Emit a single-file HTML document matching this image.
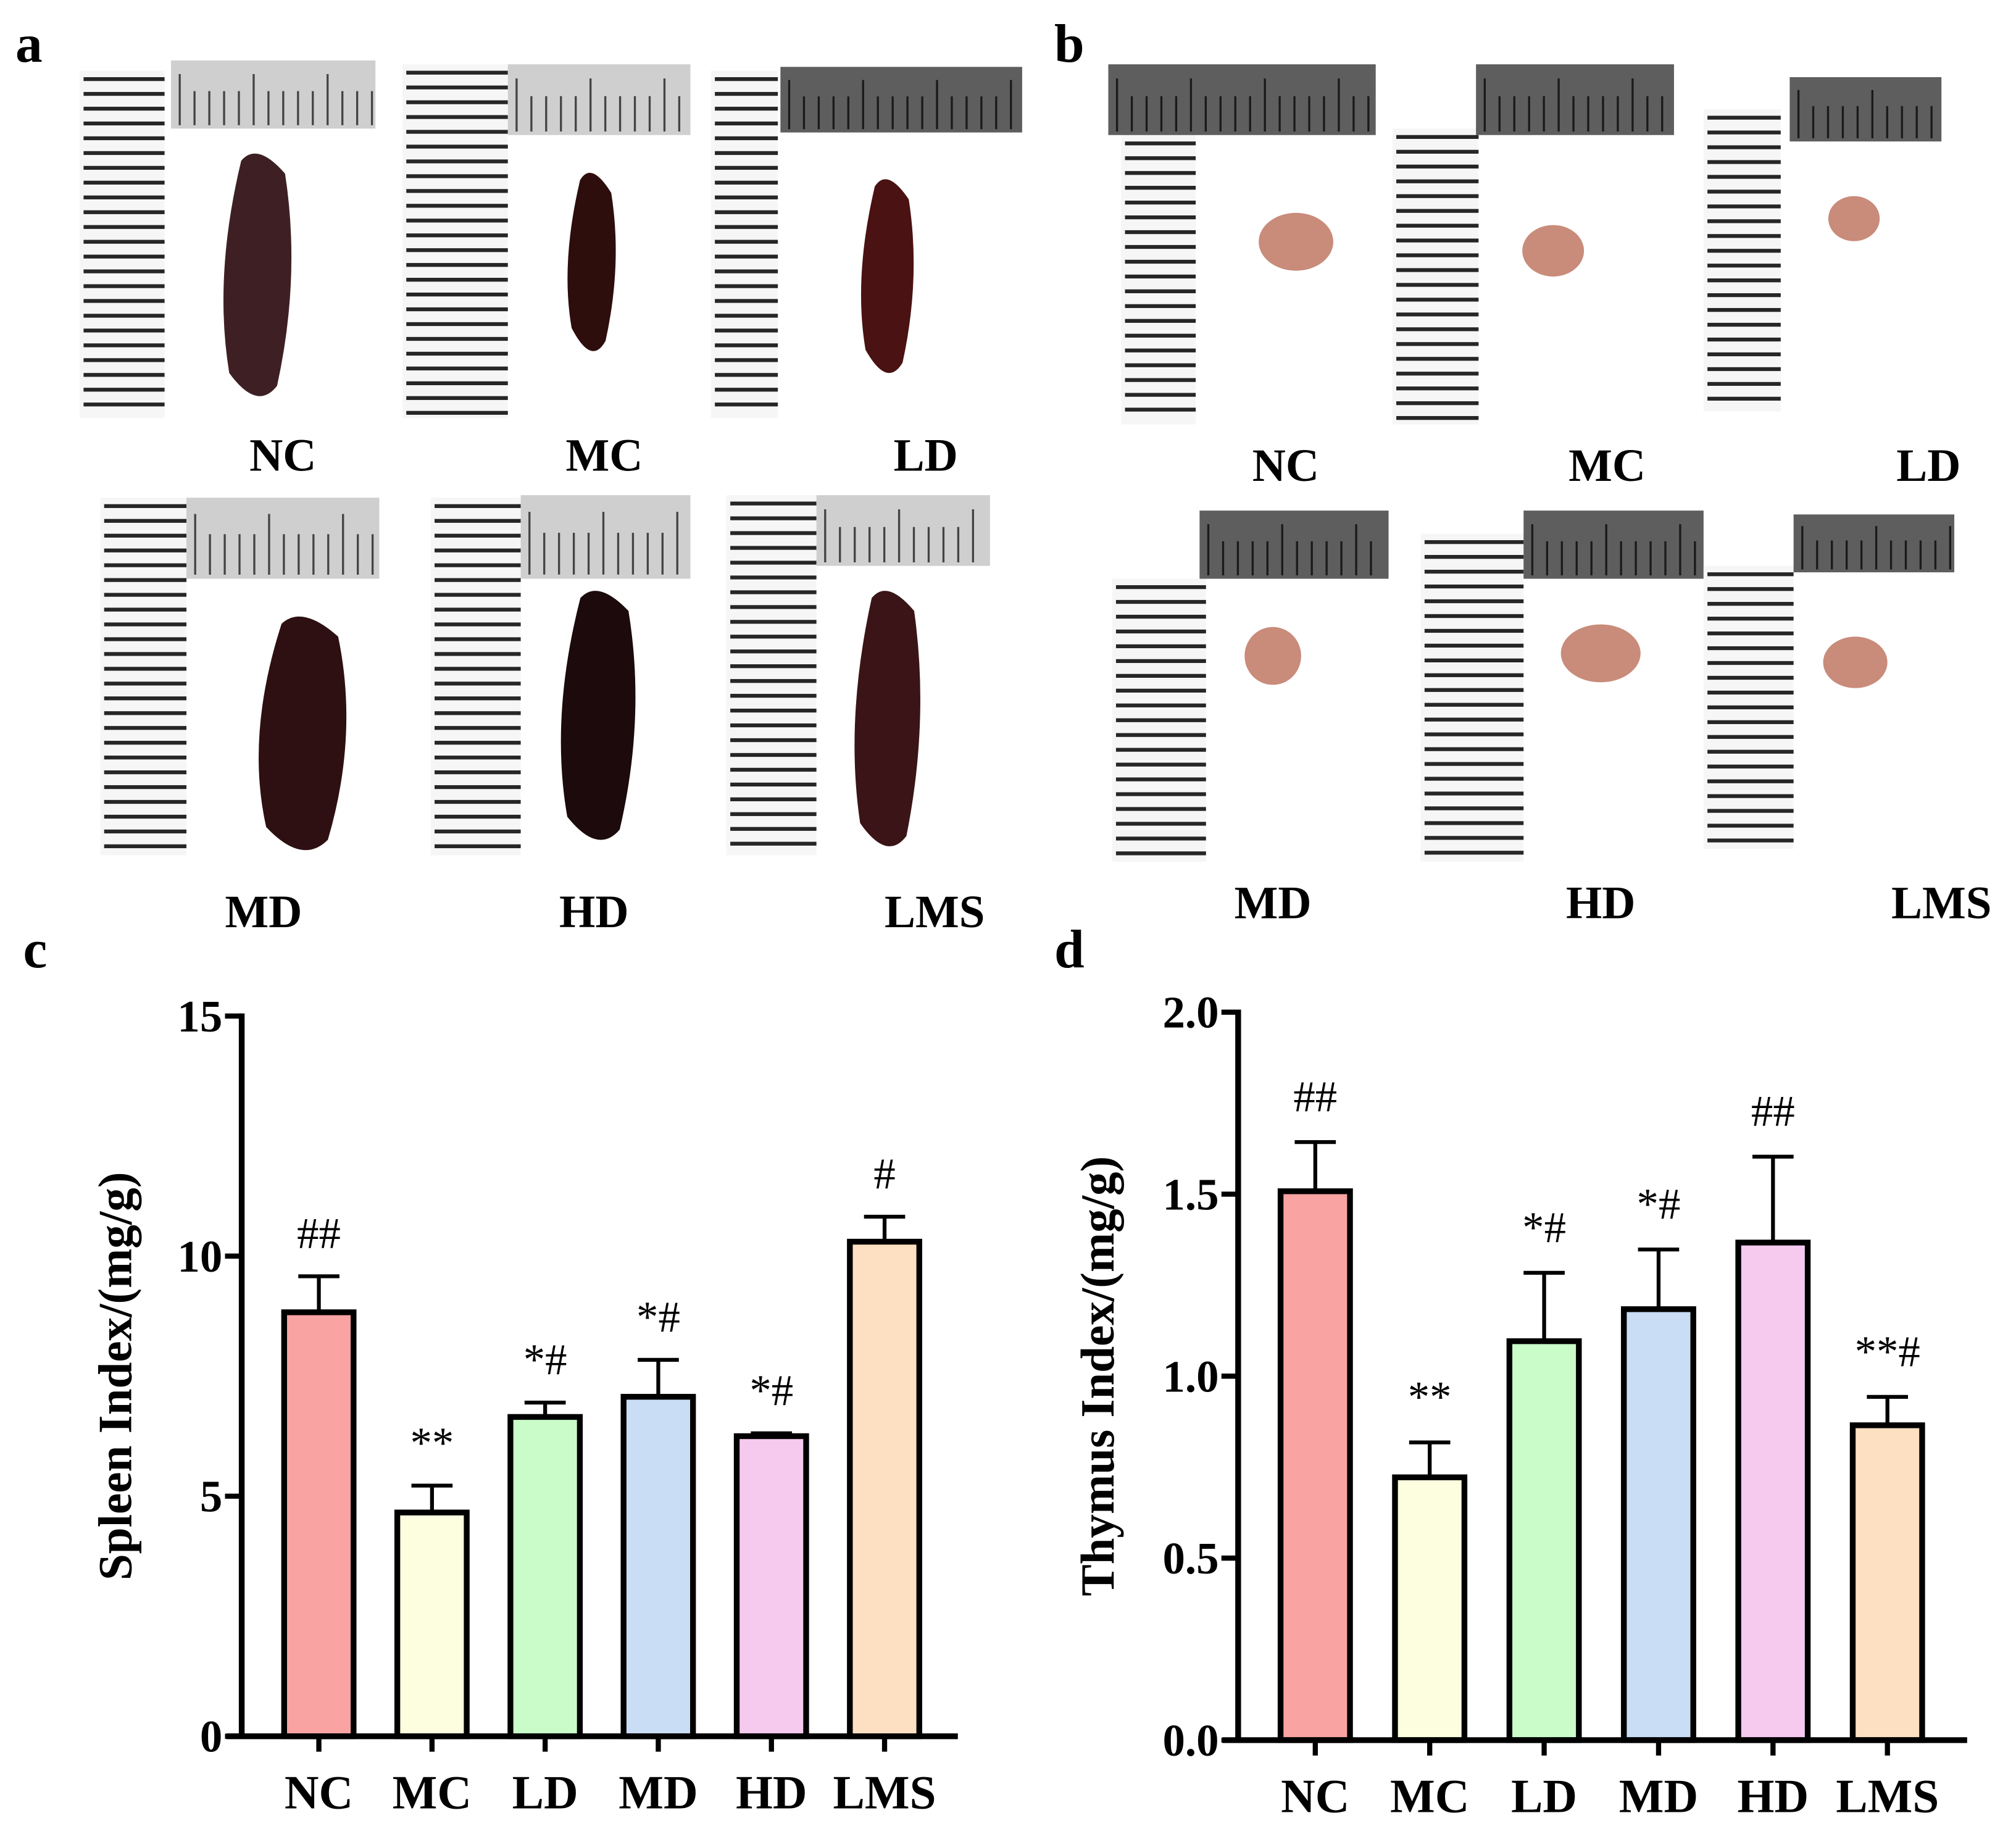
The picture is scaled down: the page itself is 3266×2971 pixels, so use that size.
<!DOCTYPE html>
<html><head><meta charset="utf-8">
<style>
html,body{margin:0;padding:0;background:#fff;}
svg{display:block;}
text{font-family:"Liberation Serif",serif;}
</style></head>
<body>
<svg id="fig" width="3266" height="2971" viewBox="0 0 1568 1426" preserveAspectRatio="none" xmlns="http://www.w3.org/2000/svg">
<rect width="1568" height="1426" fill="#fff"/>
<g id="photos"></g>
<g id="chartC"></g>
<g id="chartD"></g>
</svg>
<script>
const NS="http://www.w3.org/2000/svg";
function mk(parent,tag,attrs,txt){const e=document.createElementNS(NS,tag);for(const k in attrs)e.setAttribute(k,attrs[k]);if(txt!==undefined)e.textContent=txt;parent.appendChild(e);return e;}

// ---------- chart data ----------
const categories=["NC","MC","LD","MD","HD","LMS"];
const barColors=["#f9a3a3","#fdfde0","#c9fcc9","#c9ddf5","#f6c9ef","#fde0c1"];
const spleenValues=[8.83,4.66,6.65,7.07,6.25,10.3];
const spleenErrors=[0.75,0.56,0.30,0.77,0.06,0.52];
const spleenMarks=["##","**","*#","*#","*#","#"];
const spleenTicks=[0,5,10,15];
const thymusValues=[1.508,0.722,1.096,1.184,1.367,0.865];
const thymusErrors=[0.135,0.096,0.188,0.164,0.236,0.078];
const thymusMarks=["##","**","*#","*#","##","**#"];
const thymusTicks=["0.0","0.5","1.0","1.5","2.0"];

// ---------- photos ----------
const ph=document.getElementById('photos');
function label(x,y,s,name){const t=mk(ph,'text',{x:x,y:y,'font-size':36,'font-weight':'bold','text-anchor':'middle'},s);}
function ruler(vx,vy,vw,vh,hx,hy,hw,hh,dark,name){
  const g=mk(ph,'g',{});
  
  
  mk(g,'rect',{x:vx,y:vy,width:vw,height:vh,fill:'#f6f6f6'});
  for(let y=vy+5;y<vy+vh-2;y+=11.5){mk(g,'rect',{x:vx+3,y:y,width:vw-3,height:3,fill:'#262626'});}
  mk(g,'rect',{x:hx,y:hy,width:hw,height:hh,fill:dark?'#5e5e5e':'#cfcfcf'});
  let k=0;
  for(let x=hx+6;x<hx+hw-3;x+=11.5){const long=(k%5===0);mk(g,'rect',{x:x,y:hy+hh*(long?0.2:0.45),width:1.6,height:hh*(long?0.75:0.5),fill:dark?'#1a1a1a':'#444'});k++;}
}
function spleen(cx,y1,y2,w,col,name){
  const e=mk(ph,'path',{d:`M${cx-w*0.2},${y1+10} Q${cx},${y1-5} ${cx+w*0.35},${y1+20} Q${cx+w*0.55},${(y1+y2)/2} ${cx+w*0.25},${y2-15} Q${cx},${y2+5} ${cx-w*0.35},${y2-25} Q${cx-w*0.55},${(y1+y2)/2} ${cx-w*0.2},${y1+10}Z`,fill:col});
  
}
function thymus(cx,cy,w,h,name){
  const e=mk(ph,'ellipse',{cx:cx,cy:cy,rx:w/2,ry:h/2,fill:'#c98b7a'});
  
}
const pa=mk(ph,'text',{x:12,y:48,'font-size':42,'font-weight':'bold'},'a');
const pb=mk(ph,'text',{x:820,y:48,'font-size':42,'font-weight':'bold'},'b');
// panel a
ruler(62,55,66,270,133,47,159,53,false,'ruler-a-nc');spleen(200,115,315,62,'#3e2024','spleen-nc');label(220,366,'NC','label-a-nc');
ruler(313,50,82,275,395,50,142,55,false,'ruler-a-mc');spleen(460,130,280,44,'#2e0d0d','spleen-mc');label(470,366,'MC','label-a-mc');
ruler(553,55,52,270,607,52,188,51,true,'ruler-a-ld');spleen(690,135,297,48,'#4a1212','spleen-ld');label(720,366,'LD','label-a-ld');
ruler(78,387,67,278,145,387,150,63,false,'ruler-a-md');spleen(235,475,668,80,'#2e1012','spleen-md');label(205,721,'MD','label-a-md');
ruler(335,387,70,278,405,385,132,65,false,'ruler-a-hd');spleen(465,455,660,68,'#1c0a0c','spleen-hd');label(462,721,'HD','label-a-hd');
ruler(565,385,70,280,635,385,135,55,false,'ruler-a-lms');spleen(690,455,665,60,'#3a1416','spleen-lms');label(727,721,'LMS','label-a-lms');
// panel b
ruler(872,105,58,225,862,50,208,55,true,'ruler-b-nc');thymus(1008,188,58,45,'thymus-nc');label(1000,374,'NC','label-b-nc');
ruler(1083,100,67,230,1148,50,154,55,true,'ruler-b-mc');thymus(1208,195,48,40,'thymus-mc');label(1250,374,'MC','label-b-mc');
ruler(1325,85,60,235,1392,60,118,50,true,'ruler-b-ld');thymus(1442,170,40,35,'thymus-ld');label(1500,374,'LD','label-b-ld');
ruler(865,450,73,220,933,397,147,53,true,'ruler-b-md');thymus(990,510,44,45,'thymus-md');label(990,714,'MD','label-b-md');
ruler(1105,415,80,255,1185,397,140,53,true,'ruler-b-hd');thymus(1245,508,62,45,'thymus-hd');label(1245,714,'HD','label-b-hd');
ruler(1325,440,70,220,1395,400,125,45,true,'ruler-b-lms');thymus(1443,515,50,40,'thymus-lms');label(1510,714,'LMS','label-b-lms');

// ---------- bar chart builder ----------
function chart(gid,cfg){
  const g=document.getElementById(gid);
  const yS=v=>cfg.y0-(v/cfg.vmax)*(cfg.y0-cfg.yTop);
  const xS=i=>cfg.c0+i*cfg.step;
  const lab=mk(g,'text',{x:cfg.panelX,y:752,'font-size':42,'font-weight':'bold'},cfg.panel);
  
  
  const yt=mk(g,'text',{x:0,y:0,'font-size':37,'font-weight':'bold','text-anchor':'middle',transform:`translate(${cfg.titleX},${cfg.titleY}) rotate(-90)`},cfg.title);
  
  
  cfg.values.forEach((v,i)=>{
    const x=xS(i),w=54,top=yS(v),et=yS(v+cfg.errs[i]);
    const eb=mk(g,'line',{x1:x,x2:x,y1:top,y2:et,stroke:'#000','stroke-width':3});
    
    
    const cap=mk(g,'line',{x1:x-16,x2:x+16,y1:et,y2:et,stroke:'#000','stroke-width':3});
    
    
    const r=mk(g,'rect',{x:x-w/2,y:top,width:w,height:cfg.y0-top,fill:barColors[i],stroke:'#000','stroke-width':4.5});
    
    
    const s=mk(g,'text',{x:x,y:et-cfg.markGap,'font-size':34,'text-anchor':'middle'},cfg.marks[i]);
    
    
    const tk=mk(g,'line',{x1:x,x2:x,y1:cfg.y0,y2:cfg.y0+12,stroke:'#000','stroke-width':4});
    
    
    const tl=mk(g,'text',{x:x,y:cfg.y0+56,'font-size':37,'font-weight':'bold','text-anchor':'middle'},categories[i]);
    
    
  });
  const ya=mk(g,'line',{x1:cfg.ax,x2:cfg.ax,y1:cfg.yTop-2,y2:cfg.y0+2,stroke:'#000','stroke-width':4.5});
  
  
  const xa=mk(g,'line',{x1:cfg.ax-12,x2:cfg.xEnd,y1:cfg.y0,y2:cfg.y0,stroke:'#000','stroke-width':4.5});
  
  
  cfg.ticks.forEach(t=>{
    const y=yS(parseFloat(t));
    const tk=mk(g,'line',{x1:cfg.ax-13,x2:cfg.ax,y1:y,y2:y,stroke:'#000','stroke-width':4});
    
    
    const tl=mk(g,'text',{x:cfg.ax-15,y:y+12,'font-size':35,'font-weight':'bold','text-anchor':'end'},t);
    
    
  });
}
chart('chartC',{values:spleenValues,errs:spleenErrors,marks:spleenMarks,ticks:spleenTicks.map(String),vmax:15,
  y0:1350,yTop:790,ax:188,xEnd:745,c0:248,step:88,panel:'c',panelX:18,title:'Spleen Index/(mg/g)',titleX:102,titleY:1070,markGap:22});
chart('chartD',{values:thymusValues,errs:thymusErrors,marks:thymusMarks,ticks:thymusTicks,vmax:2,
  y0:1353,yTop:787,ax:963,xEnd:1530,c0:1023,step:89,panel:'d',panelX:820,title:'Thymus Index/(mg/g)',titleX:866,titleY:1070,markGap:24});
</script>
</body></html>
